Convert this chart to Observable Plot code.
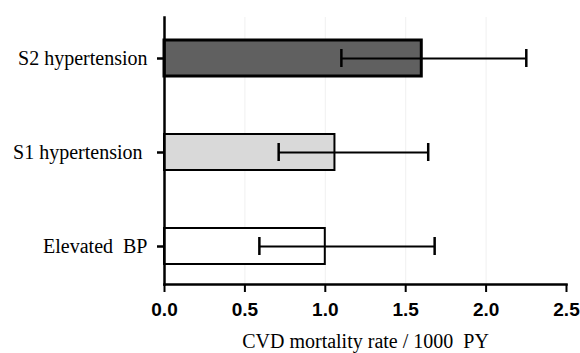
<!DOCTYPE html>
<html>
<head>
<meta charset="utf-8">
<script src="https://cdn.jsdelivr.net/npm/d3@7"></script>
<script src="https://cdn.jsdelivr.net/npm/@observablehq/plot@0.6"></script>
<style>
  html, body { margin: 0; padding: 0; background: #fff; }
  svg text { white-space: pre; }
</style>
</head>
<body>
<div id="chart"></div>
<script>
const categories = ["S2 hypertension", "S1 hypertension ", "Elevated  BP"];
const rates = [1.6, 1.06, 1.0];
const lower = [1.10, 0.71, 0.59];
const upper = [2.25, 1.64, 1.68];
const fills = ["#606060", "#d9d9d9", "#ffffff"];
const strokeWidths = [3, 2, 2];
const xTicks = [0, 0.5, 1.0, 1.5, 2.0, 2.5];
const xTitle = "CVD mortality rate / 1000  PY";

const data = categories.map((c, i) => ({
  cat: c, rate: rates[i], lo: lower[i], hi: upper[i], fill: fills[i], sw: strokeWidths[i]
}));

const chart = Plot.plot({
  width: 580,
  height: 353,
  marginLeft: 164,
  marginRight: 14,
  marginTop: 17,
  marginBottom: 69,
  style: { background: "#fff", color: "#000" },
  x: { domain: [0, 2.5], label: null },
  y: { domain: categories, paddingInner: 0.621, paddingOuter: 0.216, align: 0.537, label: null },
  marks: [
    Plot.gridX(xTicks.slice(1, -1), { stroke: "#f0f0f0", strokeOpacity: 1, strokeWidth: 1 }),
    Plot.barX(data, {
      x: "rate", y: "cat", fill: d => d.fill, stroke: "#000",
      strokeWidth: d => d.sw
    }),
    Plot.ruleY(data, { y: "cat", x1: "lo", x2: "hi", stroke: "#000", strokeWidth: 2 }),
    Plot.tickX(data, { x: "lo", y: "cat", stroke: "#000", strokeWidth: 2.5, insetTop: 9, insetBottom: 9 }),
    Plot.tickX(data, { x: "hi", y: "cat", stroke: "#000", strokeWidth: 2.5, insetTop: 9, insetBottom: 9 }),
    Plot.frame({ anchor: "left", stroke: "#000", strokeWidth: 2.5 }),
    Plot.frame({ anchor: "bottom", stroke: "#000", strokeWidth: 2.5 }),
    Plot.axisX({
      ticks: xTicks, tickFormat: d3.format(".1f"), tickSize: 8, tickPadding: 10,
      fontSize: 19, fontWeight: "bold", fontFamily: "Liberation Sans, Arial, sans-serif",
      stroke: "#000", strokeWidth: 2, fill: "#000", label: null
    }),
    Plot.axisY({
      tickSize: 7, tickPadding: 10, fontSize: 20,
      fontFamily: "Liberation Serif, Times New Roman, serif",
      stroke: "#000", strokeWidth: 2.5, fill: "#000", label: null
    }),
    Plot.text([xTitle], {
      frameAnchor: "bottom", dy: 57, text: d => d,
      fontSize: 20, fontFamily: "Liberation Serif, Times New Roman, serif",
      fill: "#000", textAnchor: "middle", lineAnchor: "middle"
    })
  ]
});
document.getElementById("chart").appendChild(chart);
</script>
</body>
</html>
